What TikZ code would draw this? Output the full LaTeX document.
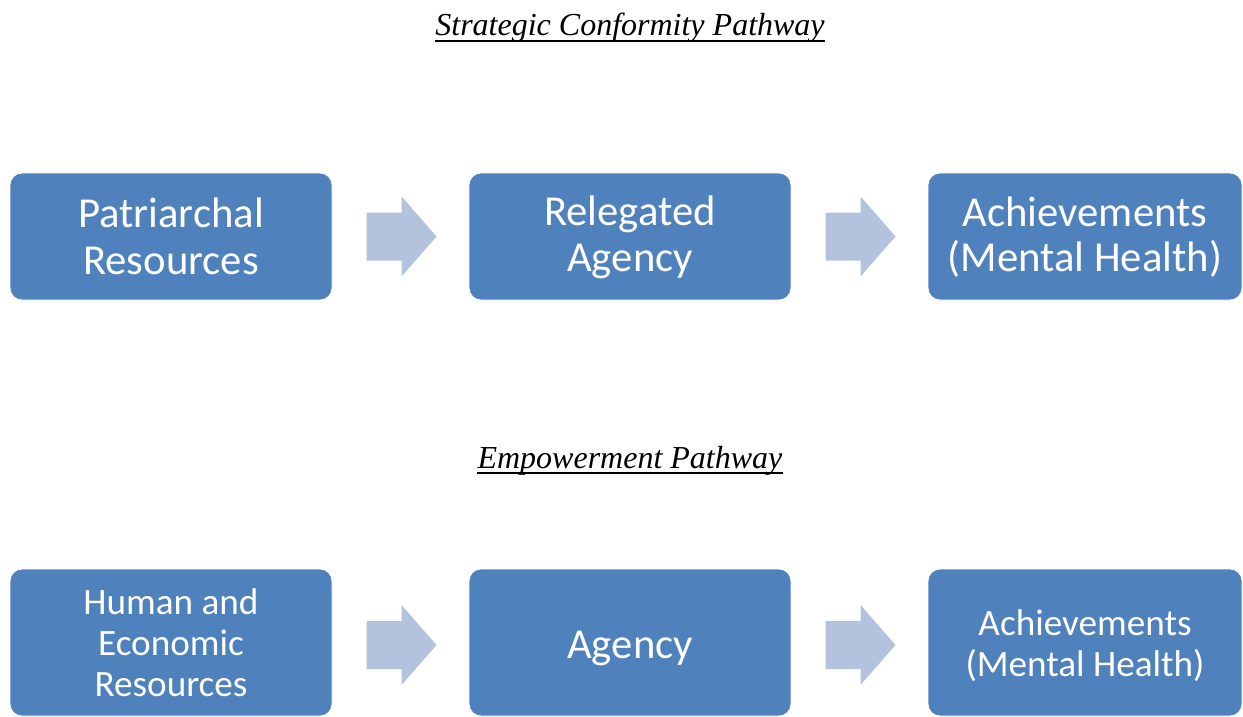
\documentclass[tikz,border=0pt]{standalone}
\usepackage{fontspec}
\setmainfont{Liberation Serif}
\newfontfamily\boxfont{Carlito}
\usetikzlibrary{calc}
\definecolor{boxblue}{HTML}{4F81BD}
\definecolor{arrowblue}{HTML}{B3C3DE}
\newcommand{\lowered}[2]{\raisebox{-#1}[\height][\depth]{#2}}
\tikzset{
  stage/.style={rectangle, rounded corners=12pt, fill=boxblue, draw=white, line width=0.8pt,
    text=white, align=center, inner sep=0pt, minimum height=127pt, font=\boxfont\fontsize{42.7}{47}\selectfont},
  tallstage/.style={stage, minimum height=147pt},
  smalltext/.style={font=\boxfont\fontsize{37.2}{41}\selectfont},
  heading/.style={inner sep=0pt, anchor=base, font=\fontsize{32}{36}\selectfont\itshape},
  blockarrow/.pic={\fill[arrowblue] (-35,-24) -- (0,-24) -- (0,-40) -- (35,0) -- (0,40) -- (0,24) -- (-35,24) -- cycle;}
}
\begin{document}
\begin{tikzpicture}[x=1pt, y=-1pt]
\useasboundingbox (0,0) rectangle (1243,717);

% Strategic conformity pathway
\node[heading] (t1) at (630,36) {Strategic Conformity Pathway};
\draw[line width=1.4pt] ($(t1.base west)+(0,5)$) -- ($(t1.base east)+(0,5)$);

\node[stage, minimum width=322pt] (p1) at (171,236.5) {Patriarchal\\Resources};
\node[stage, minimum width=322pt] (p2) at (630,236.5) {\lowered{1.5pt}{Relegated}\\Agency};
\node[stage, minimum width=314pt] (p3) at (1085,236.5) {\lowered{1.5pt}{Achievements}\\(Mental Health)};
\pic at ($(p1.east)!0.5!(p2.west)+(1,0)$) {blockarrow};
\pic at ($(p2.east)!0.5!(p3.west)+(1,0)$) {blockarrow};

% Empowerment pathway
\node[heading] (t2) at (630,468) {Empowerment Pathway};
\draw[line width=1.4pt] ($(t2.base west)+(0,5)$) -- ($(t2.base east)+(0,5)$);

\node[tallstage, smalltext, minimum width=322pt] (e1) at (171,642.5) {Human and\\Economic\\Resources};
\node[tallstage, minimum width=322pt] (e2) at (630,642.5) {\lowered{6pt}{Agency}};
\node[tallstage, smalltext, minimum width=314pt] (e3) at (1085,642.5) {\lowered{3pt}{Achievements}\\\lowered{3pt}{(Mental Health)}};
\pic at ($(e1.east)!0.5!(e2.west)+(1,2.5)$) {blockarrow};
\pic at ($(e2.east)!0.5!(e3.west)+(1,2.5)$) {blockarrow};
\end{tikzpicture}
\end{document}
